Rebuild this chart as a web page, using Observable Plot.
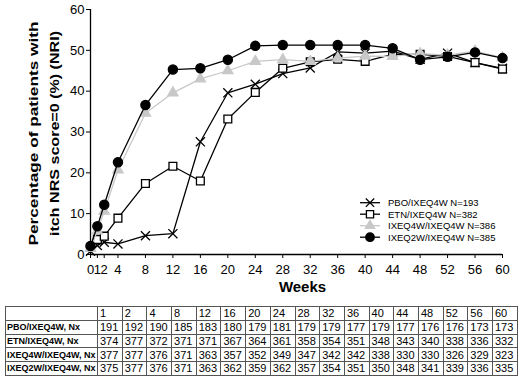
<!DOCTYPE html>
<html><head><meta charset="utf-8">
<script src="https://cdn.jsdelivr.net/npm/d3@7"></script>
<script src="https://cdn.jsdelivr.net/npm/@observablehq/plot@0.6"></script>
<style>
body{margin:0;background:#fff;font-family:"Liberation Sans",Arial,sans-serif;}
#wrap{position:relative;width:522px;height:378px;overflow:hidden;}
#chart{position:absolute;left:0;top:0;}
#legend{position:absolute;left:355px;top:196px;}
#tbl{position:absolute;left:5px;top:306px;border-collapse:collapse;table-layout:fixed;width:512px;}
#tbl td{border:1px solid #555;height:12.75px;padding:0 0 0 2px;font-size:11px;line-height:12px;white-space:nowrap;overflow:hidden;color:#000;}
#tbl td.lab{font-weight:bold;font-size:9px;padding-left:1px;}
</style></head><body>
<div id="wrap"><div id="chart"></div><div id="legend"></div><table id="tbl"></table></div>
<script>
const weeks = [0,1,2,4,8,12,16,20,24,28,32,36,40,44,48,52,56,60];
const seriesNames = ["PBO/IXEQ4W","ETN/IXEQ4W","IXEQ4W/IXEQ4W","IXEQ2W/IXEQ4W"];
const legendN = [193,382,386,385];
const pbo  = [0.8,2.2,3.0,2.6,4.6,5.1,27.6,39.6,41.7,44.3,45.7,49.6,49.3,49.8,47.8,49.3,47.0,45.6];
const etn  = [1.7,3.7,4.5,8.9,17.4,21.6,18.0,33.2,39.7,45.6,47.2,47.8,47.3,49.0,49.0,48.5,47.0,45.4];
const ixe4 = [1.5,5.8,10.6,20.7,34.6,39.6,43.0,45.0,47.3,47.7,47.3,48.1,48.6,48.5,49.2,48.8,49.8,48.2];
const ixe2 = [2.1,6.9,12.2,22.6,36.6,45.3,45.6,47.7,51.1,51.3,51.3,51.3,51.3,50.5,47.7,48.4,49.5,48.1];
const yTicks = [0,10,20,30,40,50,60];
const tableWeeks = [1,2,4,8,12,16,20,24,28,32,36,40,44,48,52,56,60];
const tableLabels = ["PBO/IXEQ4W, Nx","ETN/IXEQ4W, Nx","IXEQ4W/IXEQ4W, Nx","IXEQ2W/IXEQ4W, Nx"];
const nxPbo  = [191,192,190,185,183,180,179,181,179,179,177,179,177,176,176,173,173];
const nxEtn  = [374,377,372,371,371,367,364,361,358,354,351,348,343,340,338,336,332];
const nxIxe4 = [377,377,376,371,363,357,352,349,347,342,342,338,330,330,326,329,323];
const nxIxe2 = [375,377,376,371,363,362,359,362,357,354,351,350,348,341,339,336,335];
const yLabel1 = "Percentage of patients with";
const yLabel2 = "itch NRS score=0 (%) (NRI)";
const xLabel = "Weeks";

const GRAY = "#c8c8c8";
const styles = [
  {stroke:"#000", symbol:"times", fill:"none", r:4.2},
  {stroke:"#000", symbol:"square", fill:"#fff", r:4.4},
  {stroke:GRAY, symbol:"triangle", fill:GRAY, r:3.8},
  {stroke:"#000", symbol:"circle", fill:"#000", r:4.6}
];
const allVals = [pbo, etn, ixe4, ixe2];
const dataMarks = [];
allVals.forEach((vals, s) => {
  const d = vals.map((v, i) => ({series: seriesNames[s], week: weeks[i], value: v}));
  const st = styles[s];
  dataMarks.push(Plot.line(d, {x:"week", y:"value", stroke:st.stroke, strokeWidth:1.3}));
  dataMarks.push(Plot.dot(d, {x:"week", y:"value", symbol:st.symbol, r:st.r, fill:st.fill, stroke:st.stroke, strokeWidth:1.3}));
});

const chart = Plot.plot({
  width:522, height:300,
  marginLeft:90, marginRight:20, marginTop:9, marginBottom:46,
  style:{fontFamily:"'Liberation Sans', Arial, sans-serif", fontSize:"13px", background:"white", color:"#000"},
  x:{domain:[0,60]},
  y:{domain:[0,60]},
  marks:[
    Plot.axisX({ticks:weeks, tickSize:4, tickPadding:6, fontSize:13, label:null, tickFormat:d=>String(d)}),
    Plot.axisY({ticks:yTicks, tickSize:4, tickPadding:2, fontSize:13, label:null}),
    Plot.ruleX([0], {stroke:"#000", strokeWidth:1.3}),
    Plot.ruleY([0], {stroke:"#000", strokeWidth:1.3}),
    Plot.text([xLabel], {text:d=>d, frameAnchor:"bottom", textAnchor:"middle", dy:37, dx:6, fontWeight:"bold", fontSize:15}),
    Plot.text([yLabel1], {text:d=>d, frameAnchor:"left", textAnchor:"middle", rotate:-90, dx:-57, dy:1.5, fontWeight:"bold", fontSize:13.5}),
    Plot.text([yLabel2], {text:d=>d, frameAnchor:"left", textAnchor:"middle", rotate:-90, dx:-36, dy:1.5, fontWeight:"bold", fontSize:13.5}),
    ...dataMarks
  ]
});
// stretch the rotated y-axis title lines to the reference's length
d3.select(chart).selectAll("text").each(function() {
  const t = this.textContent;
  if (t === yLabel1) d3.select(this).attr("textLength", 224).attr("lengthAdjust", "spacingAndGlyphs");
  if (t === yLabel2) d3.select(this).attr("textLength", 205).attr("lengthAdjust", "spacingAndGlyphs");
});
document.getElementById("chart").appendChild(chart);

// Legend
const symMap = {times:d3.symbolTimes, square:d3.symbolSquare, triangle:d3.symbolTriangle, circle:d3.symbolCircle};
const lg = d3.select("#legend").append("svg").attr("width",165).attr("height",50)
  .style("font-family","'Liberation Sans', Arial, sans-serif");
seriesNames.forEach((name, s) => {
  const st = styles[s];
  const y = 6.7 + s*11.5;
  const g = lg.append("g").attr("transform", `translate(0,${y})`);
  g.append("line").attr("x1",5).attr("x2",25).attr("y1",0).attr("y2",0).attr("stroke",st.stroke).attr("stroke-width",1.3);
  g.append("path").attr("transform","translate(15,0)")
    .attr("d", d3.symbol().type(symMap[st.symbol]).size(Math.PI*st.r*st.r*0.85)())
    .attr("fill", st.fill).attr("stroke", st.stroke).attr("stroke-width",1.3);
  g.append("text").attr("x",33).attr("y",0).attr("dy","0.35em").attr("font-size","9.5px").text(`${name} N=${legendN[s]}`);
});

// Table
const tbl = d3.select("#tbl");
const cg = tbl.append("colgroup");
cg.append("col").style("width","92px");
tableWeeks.forEach(() => cg.append("col").style("width","24.7px"));
const hdr = tbl.append("tr");
hdr.append("td").attr("class","lab").text("");
tableWeeks.forEach(w => hdr.append("td").text(w));
[nxPbo, nxEtn, nxIxe4, nxIxe2].forEach((row, r) => {
  const tr = tbl.append("tr");
  tr.append("td").attr("class","lab").text(tableLabels[r]);
  row.forEach(v => tr.append("td").text(v));
});
</script>
</body></html>
